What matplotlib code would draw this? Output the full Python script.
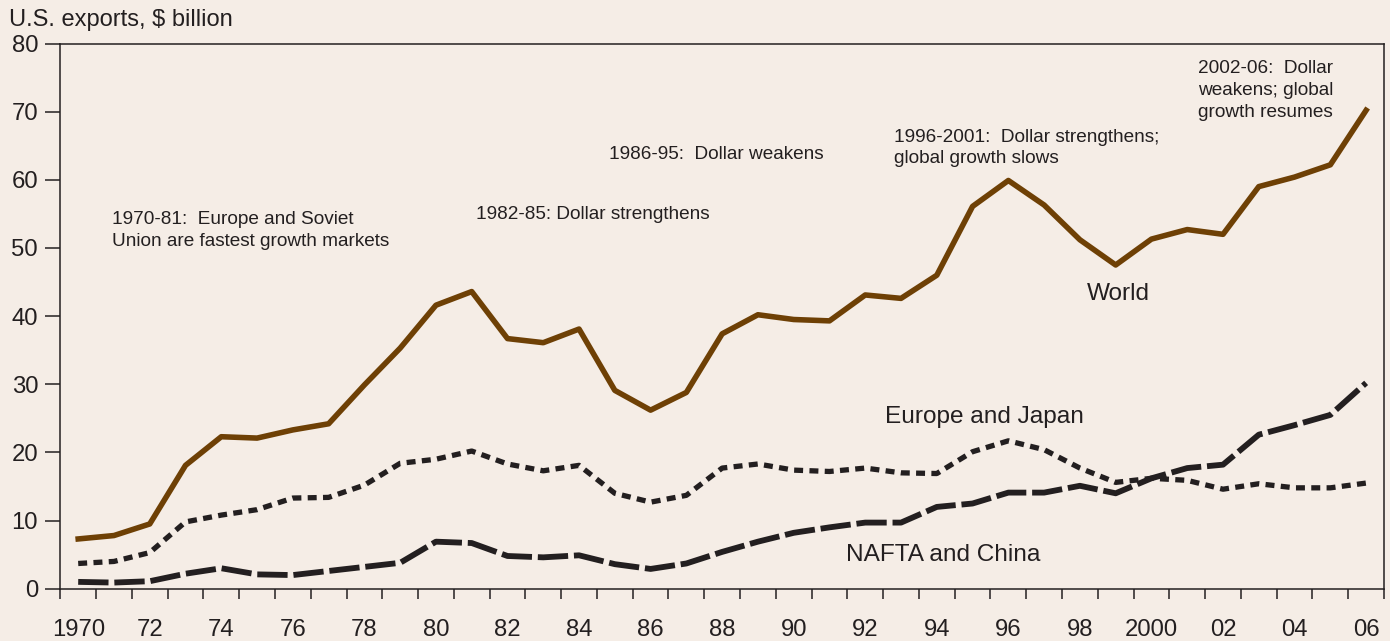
import numpy as np
import matplotlib.pyplot as plt
from matplotlib.ticker import FixedLocator

plt.rcParams['font.family'] = ['Liberation Sans', 'DejaVu Sans']

BG = "#f5ede6"
INK = "#231f20"
BROWN = "#6e4005"

years = list(range(1970, 2007))

world = [7.3, 7.8, 9.5, 18.1, 22.3, 22.1, 23.3, 24.2, 29.9, 35.3, 41.6, 43.6,
         36.7, 36.1, 38.1, 29.1, 26.2, 28.8, 37.4, 40.2, 39.5, 39.3, 43.1, 42.6,
         46.0, 56.1, 59.9, 56.3, 51.2, 47.5, 51.3, 52.7, 52.0, 59.0, 60.4, 62.2, 70.2]

europe_japan = [3.7, 4.0, 5.3, 9.8, 10.8, 11.6, 13.3, 13.4, 15.2, 18.4, 19.0, 20.2,
                18.3, 17.3, 18.1, 14.0, 12.7, 13.7, 17.7, 18.3, 17.4, 17.2, 17.7, 17.0,
                16.9, 20.1, 21.7, 20.4, 17.7, 15.6, 16.2, 15.9, 14.6, 15.4, 14.8, 14.8, 15.5]

nafta_china = [1.0, 0.9, 1.1, 2.2, 3.0, 2.1, 2.0, 2.6, 3.2, 3.8, 6.9, 6.7,
               4.8, 4.6, 4.9, 3.6, 2.9, 3.7, 5.4, 6.9, 8.2, 9.0, 9.7, 9.7,
               12.0, 12.5, 14.1, 14.1, 15.1, 14.0, 16.2, 17.7, 18.2, 22.6, 24.0, 25.5, 30.2]

year_labels = ["1970", "72", "74", "76", "78", "80", "82", "84", "86", "88",
               "90", "92", "94", "96", "98", "2000", "02", "04", "06"]
y_ticks = [0, 10, 20, 30, 40, 50, 60, 70, 80]

# annotations: (x year, baseline of last line, text)
notes = [
    (1970.94, 50.3, "1970-81:  Europe and Soviet\nUnion are fastest growth markets"),
    (1981.12, 54.2, "1982-85: Dollar strengthens"),
    (1984.84, 63.1, "1986-95:  Dollar weakens"),
    (1992.80, 62.4, "1996-2001:  Dollar strengthens;\nglobal growth slows"),
    (2001.30, 69.2, "2002-06:  Dollar\nweakens; global\ngrowth resumes"),
]

# series labels: (x year, baseline, text)
labels = [
    (1999.08, 42.3, "World"),
    (1995.32, 24.3, "Europe and Japan"),
    (1994.18, 4.0, "NAFTA and China"),
]

fig = plt.figure(figsize=(13.9, 6.41), dpi=100, facecolor=BG)
ax = fig.add_axes([60.3 / 1390, 1 - 588.7 / 641, (1384 - 60.3) / 1390, (588.7 - 43.5) / 641])
ax.set_facecolor(BG)

ax.plot(years, world, color=BROWN, lw=4.0, zorder=3)
ax.plot(years, europe_japan, color=INK, lw=3.8, dashes=(1.7, 1.2), zorder=3)
ax.plot(years, nafta_china, color=INK, lw=4.2, dashes=(5.2, 1.0), zorder=3)

ax.set_xlim(1969.5, 2006.5)
ax.set_ylim(0, 80)

ax.xaxis.set_major_locator(FixedLocator(years[::2]))
ax.set_xticklabels(year_labels)
ax.xaxis.set_minor_locator(FixedLocator(np.arange(1969.5, 2007, 1.0)))
ax.tick_params(axis="x", which="major", length=0, pad=21.5, labelsize=17.2, colors=INK)
ax.tick_params(axis="x", which="minor", length=7.3, width=1.1, color=INK, direction="out")

ax.set_yticks(y_ticks)
ax.tick_params(axis="y", which="major", length=10.5, width=1.1, pad=5.5,
               labelsize=17.2, colors=INK, direction="out")

for s in ax.spines.values():
    s.set_color(INK)
    s.set_linewidth(1.1)

fig.text(9 / 1390, 1 - 26 / 641, "U.S. exports, $ billion", fontsize=17,
         color=INK, ha="left", va="baseline")

for x, y, t in notes:
    ax.text(x, y, t, fontsize=13.7, color=INK, ha="left", va="baseline", linespacing=1.38)

for x, y, t in labels:
    ax.text(x, y, t, fontsize=17.6, color=INK, ha="center", va="baseline")

fig.savefig("out.png", dpi=100, facecolor=BG)
